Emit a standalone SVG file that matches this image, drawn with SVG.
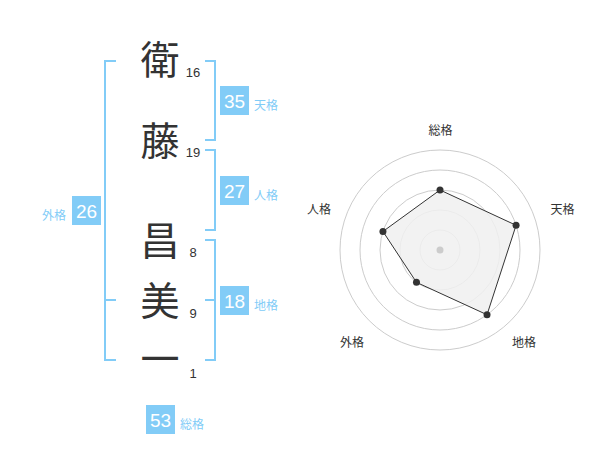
<svg xmlns="http://www.w3.org/2000/svg" width="600" height="470" viewBox="0 0 600 470">
<style>
.kanji{font-family:"Noto Sans CJK JP","Noto Sans CJK SC",sans-serif;font-size:39px;fill:#333;text-anchor:middle}
.num{font-family:"Liberation Sans",Arial,sans-serif;font-size:13px;fill:#333;text-anchor:middle}
.box{fill:#82ccf7}
.boxt{font-family:"Liberation Sans",Arial,sans-serif;font-size:19px;fill:#fff;text-anchor:middle}
.lbl{font-family:"Liberation Sans","Noto Sans CJK JP",sans-serif;font-size:12px;fill:#82ccf7}
.br{fill:none;stroke:#82ccf7;stroke-width:2}
.ring{fill:none;stroke:#cccccc;stroke-width:1}
.rl{font-family:"Liberation Sans","Noto Sans CJK JP",sans-serif;font-size:12px;fill:#333;text-anchor:middle}
</style>
<rect width="600" height="470" fill="#fff"/>
<g id="connectors">
<path class="br" d="M116,61 H105 V360 H116 M105,300 H116"/>
<path class="br" d="M205,61 H215 V140 H205"/>
<path class="br" d="M205,150 H215 V230 H205"/>
<path class="br" d="M205,240 H215 V360 H205 M205,300 H215"/>
</g>
<g id="name">
<text class="kanji" x="160" y="74">衛</text>
<text class="kanji" x="160" y="155">藤</text>
<text class="kanji" x="160" y="255">昌</text>
<text class="kanji" x="160" y="315">美</text>
<text class="kanji" x="160" y="373">一</text>
<text class="num" x="193" y="77">16</text>
<text class="num" x="193" y="157">19</text>
<text class="num" x="193" y="257">8</text>
<text class="num" x="193" y="318">9</text>
<text class="num" x="193" y="378">1</text>
</g>
<g id="tenkaku">
<rect class="box" x="220" y="86" width="29" height="29"/>
<text class="boxt" x="234.5" y="108">35</text>
<text class="lbl" x="254" y="110">天格</text>
</g>
<g id="jinkaku">
<rect class="box" x="220" y="176" width="29" height="29"/>
<text class="boxt" x="234.5" y="198">27</text>
<text class="lbl" x="254" y="200">人格</text>
</g>
<g id="chikaku">
<rect class="box" x="220" y="286" width="29" height="29"/>
<text class="boxt" x="234.5" y="308">18</text>
<text class="lbl" x="254" y="310">地格</text>
</g>
<g id="gaikaku">
<rect class="box" x="72" y="196" width="29" height="29"/>
<text class="boxt" x="86.5" y="218">26</text>
<text class="lbl" x="66" y="220" text-anchor="end">外格</text>
</g>
<g id="soukaku">
<rect class="box" x="146" y="405" width="29" height="29"/>
<text class="boxt" x="160.5" y="427">53</text>
<text class="lbl" x="180" y="429">総格</text>
</g>
<g id="radar">
<circle class="ring" cx="440" cy="250" r="20"/>
<circle class="ring" cx="440" cy="250" r="40"/>
<circle class="ring" cx="440" cy="250" r="60"/>
<circle class="ring" cx="440" cy="250" r="80"/>
<circle class="ring" cx="440" cy="250" r="100"/>
<polygon points="440,190 516.08,225.28 487.02,314.72 416.49,282.36 382.94,231.46" fill="#f0f0f0" fill-opacity="0.85" stroke="#333" stroke-width="1"/>
<circle cx="440" cy="250" r="3.5" fill="#cccccc"/>
<g fill="#333">
<circle cx="440" cy="190" r="3.5"/>
<circle cx="516.08" cy="225.28" r="3.5"/>
<circle cx="487.02" cy="314.72" r="3.5"/>
<circle cx="416.49" cy="282.36" r="3.5"/>
<circle cx="382.94" cy="231.46" r="3.5"/>
</g>
<text class="rl" x="440.5" y="135">総格</text>
<text class="rl" x="562.5" y="214">天格</text>
<text class="rl" x="319" y="214">人格</text>
<text class="rl" x="352" y="347">外格</text>
<text class="rl" x="524" y="347">地格</text>
</g>
</svg>
